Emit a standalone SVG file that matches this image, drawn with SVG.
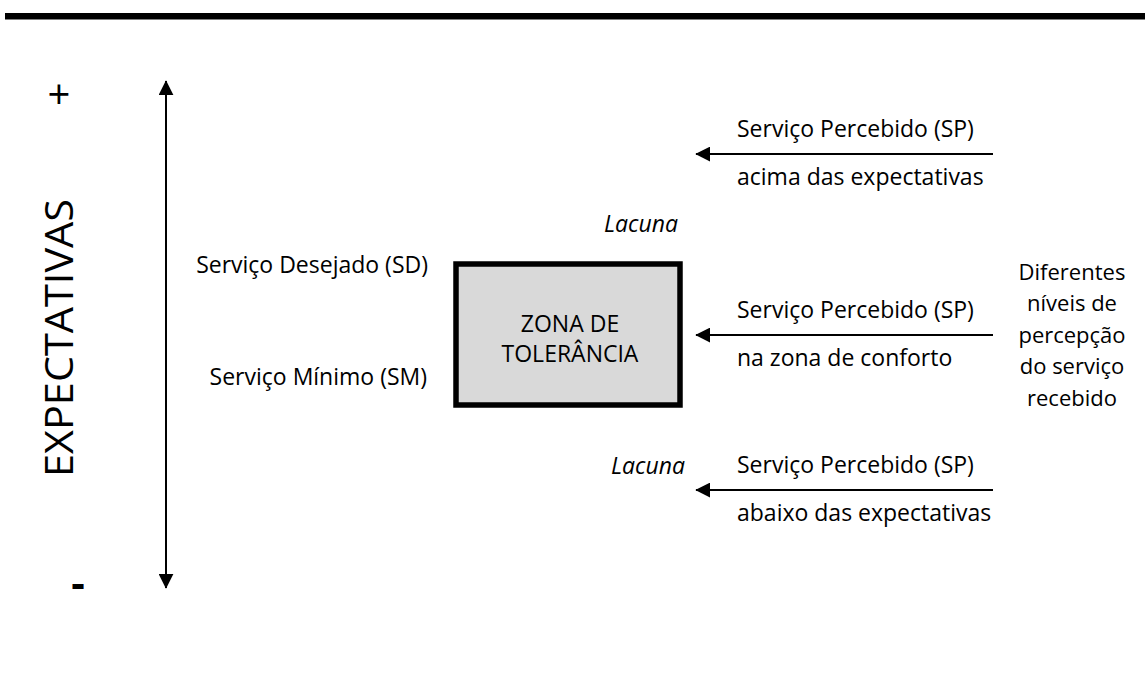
<svg xmlns="http://www.w3.org/2000/svg" width="1145" height="674" viewBox="0 0 1145 674">
<style>
text{font-family:"Open Sans","Liberation Sans",sans-serif;fill:#000;font-size:23px}
.it{font-style:italic}
.m{text-anchor:middle}
.e{text-anchor:end}
.r{font-size:22px}
.ln{stroke:#000;stroke-width:2;fill:none}
</style>
<defs>
<marker id="ah" viewBox="0 0 10 10" refX="9.5" refY="5" markerWidth="7.5" markerHeight="7.5" orient="auto-start-reverse" markerUnits="strokeWidth">
<path d="M0,0 L10,5 L0,10 z" fill="#000"/>
</marker>
</defs>
<rect x="5" y="13" width="1140" height="6.5" fill="#000"/>
<g id="axis">
<text x="59" y="109" class="m" style="font-size:40px">+</text>
<text x="78" y="598" class="m" style="font-size:42px;font-weight:bold">-</text>
<text transform="translate(73,338) rotate(-90)" class="m" style="font-size:38px" textLength="278" lengthAdjust="spacingAndGlyphs">EXPECTATIVAS</text>
</g>
<g id="connectors">
<line class="ln" x1="166" y1="588" x2="166" y2="81" marker-start="url(#ah)" marker-end="url(#ah)"/>
<line class="ln" x1="993" y1="154" x2="696" y2="154" marker-end="url(#ah)"/>
<line class="ln" x1="993" y1="335" x2="696" y2="335" marker-end="url(#ah)"/>
<line class="ln" x1="993" y1="490" x2="696" y2="490" marker-end="url(#ah)"/>
</g>
<g id="zona">
<rect x="456" y="264" width="224" height="141" fill="#d9d9d9" stroke="#000" stroke-width="5.5"/>
<text x="570" y="332" class="m">ZONA DE</text>
<text x="570" y="362" class="m">TOLERÂNCIA</text>
</g>
<g id="sd"><text x="428" y="273" class="e">Serviço Desejado (SD)</text></g>
<g id="sm"><text x="427" y="385" class="e">Serviço Mínimo (SM)</text></g>
<g id="lacuna1"><text x="641" y="232" class="m it">Lacuna</text></g>
<g id="lacuna2"><text x="648" y="474" class="m it">Lacuna</text></g>
<g id="sp1">
<text x="737" y="137">Serviço Percebido (SP)</text>
<text x="737" y="185">acima das expectativas</text>
</g>
<g id="sp2">
<text x="737" y="318">Serviço Percebido (SP)</text>
<text x="737" y="366">na zona de conforto</text>
</g>
<g id="sp3">
<text x="737" y="473">Serviço Percebido (SP)</text>
<text x="737" y="521">abaixo das expectativas</text>
</g>
<g id="niveis">
<text x="1072" y="280" class="m r">Diferentes</text>
<text x="1072" y="311" class="m r">níveis de</text>
<text x="1072" y="343" class="m r">percepção</text>
<text x="1072" y="374" class="m r">do serviço</text>
<text x="1072" y="406" class="m r">recebido</text>
</g>
</svg>
